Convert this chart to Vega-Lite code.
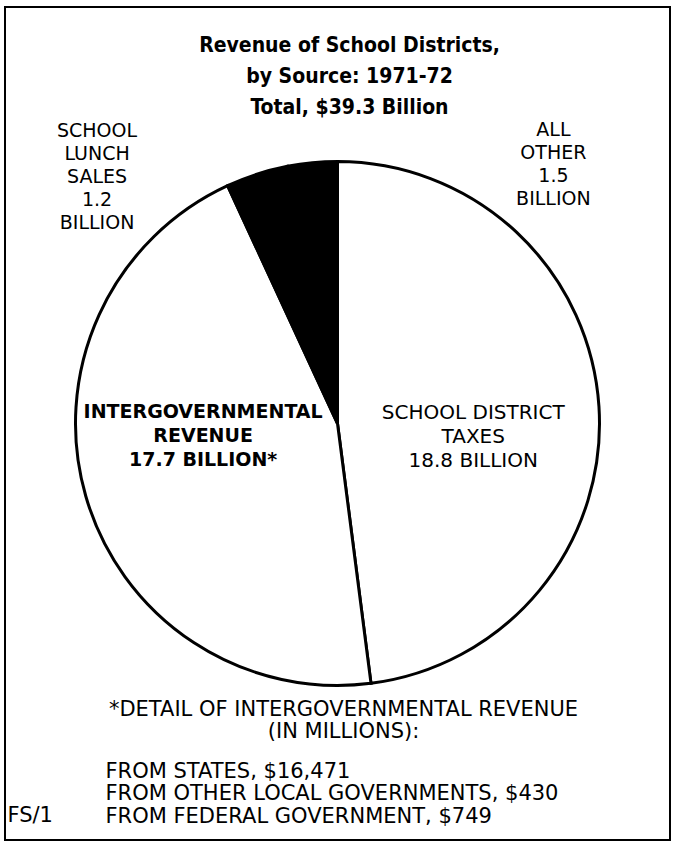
{
  "$schema": "https://vega.github.io/schema/vega-lite/v6.json",
  "width": 665,
  "height": 833,
  "autosize": {"type": "none"},
  "padding": {"left": 5, "top": 7, "right": 4, "bottom": 3},
  "background": "white",
  "config": {"view": {"stroke": "black", "strokeWidth": 2}, "font": "DejaVu Sans"},
  "title": {
    "text": ["Revenue of School Districts,", "by Source: 1971-72", "Total, $39.3 Billion"],
    "font": "DejaVu Sans Condensed",
    "fontSize": 21,
    "fontWeight": "bold",
    "lineHeight": 31,
    "color": "black",
    "anchor": "middle",
    "offset": -114,
    "dx": 12
  },
  "datasets": {
    "revenue": [
      {"source": "School district taxes", "billions": 18.8, "label": ["SCHOOL DISTRICT", "TAXES", "18.8 BILLION"]},
      {"source": "Intergovernmental revenue", "billions": 17.7, "label": ["INTERGOVERNMENTAL", "REVENUE", "17.7 BILLION*"]},
      {"source": "School lunch sales", "billions": 1.2, "label": ["SCHOOL", "LUNCH", "SALES", "1.2", "BILLION"]},
      {"source": "All other", "billions": 1.5, "label": ["ALL", "OTHER", "1.5", "BILLION"]}
    ],
    "footnote": [
      {"part": "heading", "lines": ["*DETAIL OF INTERGOVERNMENTAL REVENUE", "(IN MILLIONS):"]},
      {"part": "detail", "lines": ["FROM STATES, $16,471", "FROM OTHER LOCAL GOVERNMENTS, $430", "FROM FEDERAL GOVERNMENT, $749"]},
      {"part": "code", "lines": "FS/1"}
    ]
  },
  "layer": [
    {
      "data": {"name": "revenue"},
      "encoding": {
        "theta": {"field": "billions", "type": "quantitative", "stack": true},
        "order": {"field": "billions", "sort": "descending"}
      },
      "layer": [
        {
          "mark": {"type": "arc", "outerRadius": 262, "stroke": "black", "strokeWidth": 3},
          "encoding": {
            "color": {
              "field": "source",
              "type": "nominal",
              "scale": {
                "domain": ["School district taxes", "Intergovernmental revenue", "School lunch sales", "All other"],
                "range": ["white", "white", "black", "black"]
              },
              "legend": null
            }
          }
        },
        {
          "mark": {"type": "text", "radius": 132, "dx": 4, "dy": -2, "fontSize": 20, "lineHeight": 24, "align": "center", "baseline": "middle", "color": "black"},
          "encoding": {
            "text": {"condition": {"test": "datum.source === 'School district taxes'", "field": "label"}, "value": ""}
          }
        },
        {
          "mark": {"type": "text", "radius": 144, "dx": 4, "dy": -51, "fontSize": 19, "fontWeight": "bold", "lineHeight": 24, "align": "center", "baseline": "middle", "color": "black"},
          "encoding": {
            "text": {"condition": {"test": "datum.source === 'Intergovernmental revenue'", "field": "label"}, "value": ""}
          }
        },
        {
          "mark": {"type": "text", "radius": 244, "dx": -217, "dy": -50, "fontSize": 19, "lineHeight": 23, "align": "center", "baseline": "middle", "color": "black"},
          "encoding": {
            "text": {"condition": {"test": "datum.source === 'School lunch sales'", "field": "label"}, "value": ""}
          }
        },
        {
          "mark": {"type": "text", "radius": 267, "dx": 298, "dy": -39, "fontSize": 19, "lineHeight": 23, "align": "center", "baseline": "middle", "color": "black"},
          "encoding": {
            "text": {"condition": {"test": "datum.source === 'All other'", "field": "label"}, "value": ""}
          }
        }
      ]
    },
    {
      "data": {"name": "footnote"},
      "layer": [
        {
          "mark": {"type": "point", "opacity": 0},
          "encoding": {
            "x": {"datum": 0, "type": "quantitative", "axis": null},
            "y": {"datum": 0, "type": "quantitative", "axis": null}
          }
        },
        {
          "transform": [{"filter": "datum.part === 'heading'"}],
          "mark": {"type": "text", "dx": 6, "dy": 286, "fontSize": 21, "lineHeight": 22, "align": "center", "baseline": "middle", "color": "black"},
          "encoding": {"text": {"field": "lines"}}
        },
        {
          "transform": [{"filter": "datum.part === 'detail'"}],
          "mark": {"type": "text", "dx": -232, "dy": 348, "fontSize": 21, "lineHeight": 22.5, "align": "left", "baseline": "middle", "color": "black"},
          "encoding": {"text": {"field": "lines"}}
        },
        {
          "transform": [{"filter": "datum.part === 'code'"}],
          "mark": {"type": "text", "dx": -330, "dy": 392, "fontSize": 21, "align": "left", "baseline": "middle", "color": "black"},
          "encoding": {"text": {"field": "lines"}}
        }
      ]
    }
  ]
}
